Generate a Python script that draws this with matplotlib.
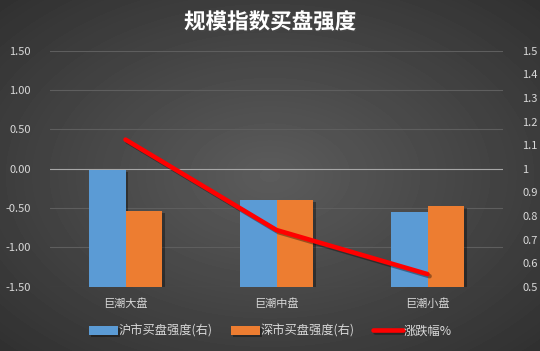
import numpy as np
import matplotlib
matplotlib.use("Agg")
import matplotlib.pyplot as plt
import matplotlib.patheffects as pe

plt.rcParams['font.family'] = ['Noto Sans CJK SC', 'DejaVu Sans']

categories = ['巨潮大盘', '巨潮中盘', '巨潮小盘']
sh_strength = [0.995, 0.867, 0.817]   # 沪市买盘强度(右)
sz_strength = [0.822, 0.867, 0.842]   # 深市买盘强度(右)
pct_change = [0.37, -0.78, -1.34]     # 涨跌幅%
left_ticks = [-1.5, -1.0, -0.5, 0.0, 0.5, 1.0, 1.5]
right_ticks = [0.5, 0.6, 0.7, 0.8, 0.9, 1.0, 1.1, 1.2, 1.3, 1.4, 1.5]

txt = '#d9d9d9'
fig = plt.figure(figsize=(5.4, 3.51), dpi=100)

# radial gradient background
bg = fig.add_axes([0, 0, 1, 1], zorder=-10)
yy, xx = np.mgrid[-1:1:351j, -1:1:540j]
r = np.sqrt(xx**2 + yy**2) / np.sqrt(2)
bg.imshow(0.36 - 0.17 * r, cmap='gray', vmin=0, vmax=1, aspect='auto', extent=[0, 1, 0, 1])
bg.axis('off')

rect = [50 / 540, 1 - 286.7 / 351, 453 / 540, 236 / 351]
ax = fig.add_axes(rect)
ax.patch.set_visible(False)
ax.set_ylim(-1.5, 1.5)
ax.set_xlim(-0.5, 2.5)
ax.set_yticks(left_ticks)
ax.set_yticklabels(['%.2f' % v for v in left_ticks])
for v in left_ticks:
    ax.axhline(v, color='#5e5e5e' if v != 0 else '#a6a6a6', lw=0.8, zorder=0)
ax.set_xticks(range(len(categories)))
ax.set_xticklabels(categories)
ax.tick_params(colors=txt, labelsize=8, length=0)
ax.tick_params(axis='y', pad=14)
ax.tick_params(axis='x', pad=8)
for s in ax.spines.values():
    s.set_visible(False)

ax2 = ax.twinx()
ax2.set_ylim(0.5, 1.5)
ax2.set_yticks(right_ticks)
ax2.set_yticklabels(['%g' % v for v in right_ticks])
ax2.tick_params(colors=txt, labelsize=8, length=0, pad=14)
for s in ax2.spines.values():
    s.set_visible(False)
x = np.arange(len(categories))
w = 0.245
shadow = [pe.SimplePatchShadow(offset=(1.5, -1.5), shadow_rgbFace='black', alpha=0.35), pe.Normal()]
b1 = ax2.bar(x - w / 2, np.array(sh_strength) - 0.5, w, bottom=0.5, color='#5b9bd5', label='沪市买盘强度(右)')
b2 = ax2.bar(x + w / 2, np.array(sz_strength) - 0.5, w, bottom=0.5, color='#ed7d31', label='深市买盘强度(右)')
for b in list(b1) + list(b2):
    b.set_path_effects(shadow)

ax3 = ax.twinx()
ax3.set_ylim(-1.5, 1.5)
ax3.axis('off')
ln, = ax3.plot(x, pct_change, color='#ff0000', lw=3.3, solid_capstyle='round', label='涨跌幅%',
               path_effects=[pe.SimpleLineShadow(offset=(1.5, -1.5), alpha=0.35), pe.Normal()])

fig.text(0.5, 1 - 22 / 351, '规模指数买盘强度', ha='center', va='center', color='white',
         fontsize=15.5, fontweight='bold',
         path_effects=[pe.withSimplePatchShadow(offset=(1, -1), alpha=0.5)])

leg = fig.legend([b1, b2, ln], ['沪市买盘强度(右)', '深市买盘强度(右)', '涨跌幅%'], loc='center',
                 bbox_to_anchor=(0.5, 1 - 331 / 351), ncol=3, frameon=False, fontsize=8.8,
                 handlelength=2.4, handleheight=0.7, handletextpad=0.05, columnspacing=1.5)
for t in leg.get_texts():
    t.set_color(txt)

fig.savefig('out.png', dpi=100)
